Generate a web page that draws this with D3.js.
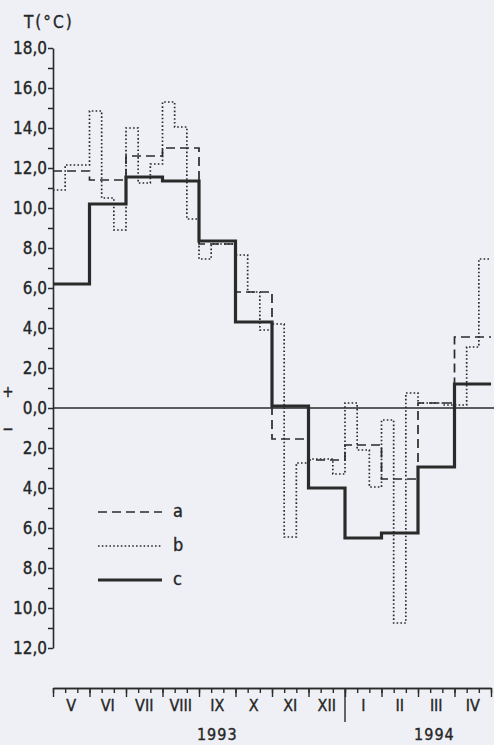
<!DOCTYPE html>
<html>
<head>
<meta charset="utf-8">
<script src="https://cdn.jsdelivr.net/npm/d3@7"></script>
<style>
  html, body { margin: 0; padding: 0; background: #eef0f5; }
  svg { display: block; }
  text {
    font-family: "DejaVu Sans Condensed", "Liberation Sans Narrow", "DejaVu Sans", sans-serif;
    font-stretch: condensed;
    fill: #262626;
    stroke: #262626;
    stroke-width: 0.35px;
  }
</style>
</head>
<body>
<svg id="chart" width="494" height="745"></svg>
<script>
// Months of the hydrological year, May 1993 – April 1994
const months = ["V", "VI", "VII", "VIII", "IX", "X", "XI", "XII", "I", "II", "III", "IV"];
const years = ["1993", "1994"];

// a – monthly mean temperature (°C)
const seriesA = [11.85, 11.4, 12.6, 13.0, 8.2, 5.8, -1.55, -2.6, -1.85, -3.55, 0.25, 3.55];

// b – ten-day (decade) mean temperature (°C), three per month
const seriesB = [
  10.9, 12.15, 12.15,   // V
  14.85, 10.5, 8.9,     // VI
  14.0, 11.25, 12.2,    // VII
  15.3, 14.05, 9.45,    // VIII
  7.45, 8.2, 8.2,       // IX
  7.65, 5.8, 3.9,       // X
  4.2, -6.45, -2.75,    // XI
  -2.55, -2.55, -3.3,   // XII
  0.25, -2.1, -3.95,    // I
  -0.6, -10.75, 0.75,   // II
  0.25, 0.25, 0.15,     // III
  0.15, 3.05, 7.45      // IV
];

// c – monthly mean temperature (°C)
const seriesC = [6.2, 10.2, 11.55, 11.35, 8.35, 4.3, 0.1, -4.0, -6.5, -6.25, -2.95, 1.2];

const yMin = -12, yMax = 18;
const legendNames = ["a", "b", "c"];

const ink = "#2a2a2a";
const svg = d3.select("#chart");

const x = d3.scaleLinear().domain([0, months.length]).range([53, 491]);
const y = d3.scaleLinear().domain([yMin, yMax]).range([648, 48]);

const styles = {
  a: { width: 1.7, dash: "9,5" },
  b: { width: 1.7, dash: "1.6,2.2" },
  c: { width: 3.2, dash: null }
};

// ---- Y axis ----
const fmt = v => Math.abs(v).toFixed(1).replace(".", ",");
const yAxis = d3.axisLeft(y)
  .tickValues(d3.range(yMin, yMax + 1, 1))
  .tickSize(5)
  .tickSizeOuter(0)
  .tickPadding(1)
  .tickFormat(v => (v % 2 === 0 ? fmt(v) : ""));

const gy = svg.append("g").attr("transform", `translate(${x(0)},0)`).call(yAxis);
gy.attr("font-family", null);
gy.select(".domain").attr("stroke", ink).attr("stroke-width", 1.6);
gy.selectAll(".tick line").attr("stroke", ink).attr("stroke-width", 1.5);
gy.selectAll(".tick text").attr("font-size", 17).attr("fill", "#262626");

// axis title
svg.append("text")
  .attr("x", 24).attr("y", 28)
  .attr("font-size", 17)
  .attr("letter-spacing", 2)
  .text("T(°C)");

// sign marks beside zero
svg.append("text").attr("x", 8).attr("y", y(0) - 16)
  .attr("text-anchor", "middle").attr("dominant-baseline", "middle")
  .attr("font-size", 15).text("+");
svg.append("text").attr("x", 8).attr("y", y(0) + 21)
  .attr("text-anchor", "middle").attr("dominant-baseline", "middle")
  .attr("font-size", 15).text("−");

// zero line
svg.append("line")
  .attr("x1", x(0)).attr("x2", 494)
  .attr("y1", y(0)).attr("y2", y(0))
  .attr("stroke", ink).attr("stroke-width", 1.3);

// ---- Step series ----
function stepPoints(values, perMonth) {
  const pts = values.map((v, i) => [i / perMonth, v]);
  pts.push([values.length / perMonth, values[values.length - 1]]);
  return pts;
}
const line = d3.line()
  .x(d => x(d[0]))
  .y(d => y(d[1]))
  .curve(d3.curveStepAfter);

const series = [
  { name: "b", pts: stepPoints(seriesB, 3) },
  { name: "a", pts: stepPoints(seriesA, 1) },
  { name: "c", pts: stepPoints(seriesC, 1) }
];

svg.append("g").selectAll("path")
  .data(series)
  .join("path")
  .attr("d", d => line(d.pts))
  .attr("fill", "none")
  .attr("stroke", ink)
  .attr("stroke-width", d => styles[d.name].width)
  .attr("stroke-dasharray", d => styles[d.name].dash)
  .attr("stroke-linejoin", "miter")
  .attr("stroke-linecap", "butt");

// ---- Legend ----
const legend = svg.append("g");
const legendY = d3.scaleOrdinal().domain(legendNames).range([512, 546, 580]);
legendNames.forEach(n => {
  legend.append("line")
    .attr("x1", 98).attr("x2", 162)
    .attr("y1", legendY(n)).attr("y2", legendY(n))
    .attr("stroke", ink)
    .attr("stroke-width", styles[n].width)
    .attr("stroke-dasharray", styles[n].dash);
  legend.append("text")
    .attr("x", 173).attr("y", legendY(n))
    .attr("dominant-baseline", "middle")
    .attr("font-size", 18)
    .text(n);
});

// ---- X axis (months, decade ticks) ----
const axisY = 688;
const gxDec = svg.append("g").attr("transform", `translate(0,${axisY})`)
  .call(d3.axisBottom(x)
    .tickValues(d3.range(0, months.length * 3 + 1).map(i => i / 3))
    .tickSize(5).tickSizeOuter(0).tickFormat(""));
const gxMon = svg.append("g").attr("transform", `translate(0,${axisY})`)
  .call(d3.axisBottom(x)
    .tickValues(d3.range(0, months.length + 1))
    .tickSize(9).tickSizeOuter(0).tickFormat(""));
[gxDec, gxMon].forEach(g => {
  g.select(".domain").attr("stroke", ink).attr("stroke-width", 1.6);
  g.selectAll(".tick line").attr("stroke", ink).attr("stroke-width", 1.4);
});

// year boundary between XII and I
svg.append("line")
  .attr("x1", x(8)).attr("x2", x(8))
  .attr("y1", axisY).attr("y2", axisY + 34)
  .attr("stroke", ink).attr("stroke-width", 1.4);

svg.append("g").selectAll("text")
  .data(months)
  .join("text")
  .attr("x", (d, i) => x(i + 0.5))
  .attr("y", 711)
  .attr("text-anchor", "middle")
  .attr("font-size", 16)
  .text(d => d);

const yearAt = [4.5, 10.45];
svg.append("g").selectAll("text")
  .data(years)
  .join("text")
  .attr("x", (d, i) => x(yearAt[i]))
  .attr("y", 740)
  .attr("text-anchor", "middle")
  .attr("font-size", 16)
  .attr("letter-spacing", 1)
  .text(d => d);
</script>
</body>
</html>
